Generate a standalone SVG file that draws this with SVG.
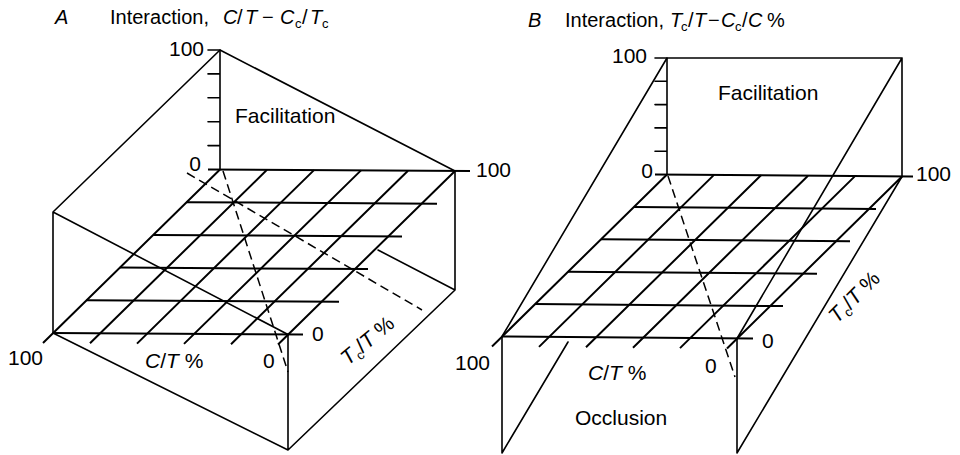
<svg xmlns="http://www.w3.org/2000/svg" width="960" height="455" viewBox="0 0 960 455">
<style>
.ln{stroke:#000;stroke-width:1.6;fill:none;stroke-linecap:round;stroke-linejoin:round}
.gr{stroke:#000;stroke-width:2;fill:none}
.ds{stroke:#000;stroke-width:1.5;fill:none;stroke-dasharray:9 5}
text{font-family:"Liberation Sans",Arial,Helvetica,sans-serif;font-size:21px;fill:#000}
.t{font-size:20px}
.i{font-style:italic}
.s{font-size:13px}
</style>
<rect width="960" height="455" fill="#fff"/>
<g id="panelA">
  <g id="A-grid">
    <path class="gr" d="M208,169.5 L470,171 M186.6,202.2 L437,203.7 M153.2,234.9 L402,236.4 M119.8,267.6 L368,269.1 M86.4,300.3 L339,301.8 M53,333 L303,334.5"/>
    <path class="gr" d="M220,169.5 L43,343 M267,169.8 L90,343.3 M314,170.1 L137,343.6 M361,170.4 L184,343.9 M408,170.7 L231,344.2 M455,171 L278,344.5"/>
  </g>
  <g id="A-axis">
    <path class="ln" d="M220,50 V169.5 M208,50 H220 M208,73.9 H220 M208,97.8 H220 M208,121.7 H220 M208,145.6 H220"/>
  </g>
  <g id="A-surface">
    <path class="ln" d="M220,50 L455,171 M220,50 L53,212 V333 M53,212 L288,334.5 M53,333 L288,450 V334.5 M288,450 L455,290 V171 M378,250 L455,290"/>
  </g>
  <g id="A-dashed">
    <path class="ds" d="M187,173 L422,310 M223,171 L288,372"/>
  </g>
  <g id="A-labels">
    <text class="t i" x="55" y="24">A</text>
    <text class="t" y="24"><tspan x="110">Interaction,</tspan><tspan class="i" x="223">C</tspan><tspan x="237">/</tspan><tspan class="i" x="245">T</tspan><tspan x="262">−</tspan><tspan class="i" x="280">C</tspan><tspan class="s" x="295" dy="4">c</tspan><tspan x="302" dy="-4">/</tspan><tspan class="i" x="310">T</tspan><tspan class="s" x="322" dy="4">c</tspan></text>
    <text x="204" y="56" text-anchor="end">100</text>
    <text x="201" y="171" text-anchor="end">0</text>
    <text x="235" y="123">Facilitation</text>
    <text x="476" y="177">100</text>
    <text x="312" y="341">0</text>
    <text x="8" y="365">100</text>
    <text x="145" y="368"><tspan class="i">C</tspan>/<tspan class="i">T</tspan> %</text>
    <text x="263" y="368">0</text>
    <text transform="translate(348,366) rotate(-40)"><tspan class="i">T</tspan><tspan class="s" dy="4">c</tspan><tspan dy="-4">/</tspan><tspan class="i">T</tspan> %</text>
  </g>
</g>
<g id="panelB">
  <g id="B-grid">
    <path class="gr" d="M655,174.5 L913,176.5 M634,206.9 L876,208.9 M601,239.3 L850,241.3 M568,271.7 L817,273.7 M535,304.1 L783,306.1 M502,336.5 L753,338.5"/>
    <path class="gr" d="M667,174.5 L492,346.5 M714,174.9 L539,346.9 M761,175.3 L586,347.3 M808,175.7 L633,347.7 M855,176.1 L680,348.1 M902,176.5 L727,348.5"/>
  </g>
  <g id="B-axis">
    <path class="ln" d="M667,58 V174.5 M655,58 H667 M655,81.3 H667 M655,104.6 H667 M655,127.9 H667 M655,151.2 H667"/>
  </g>
  <g id="B-surface">
    <path class="ln" d="M667,58 H902 V176.5 M667,58 L502,336.5 M902,58 L737,338.5 M502,336.5 V453 M737,338.5 V453 M568,342 L502,453 M902,176.5 L737,453"/>
  </g>
  <g id="B-dashed">
    <path class="ds" d="M668,176 L735,377"/>
  </g>
  <g id="B-labels">
    <text class="t i" x="528" y="27">B</text>
    <text class="t" y="27"><tspan x="565">Interaction,</tspan><tspan class="i" x="670">T</tspan><tspan class="s" x="681" dy="4">c</tspan><tspan x="688" dy="-4">/</tspan><tspan class="i" x="694">T</tspan><tspan x="708">−</tspan><tspan class="i" x="721">C</tspan><tspan class="s" x="735" dy="4">c</tspan><tspan x="742" dy="-4">/</tspan><tspan class="i" x="748">C</tspan><tspan x="767">%</tspan></text>
    <text x="647" y="63" text-anchor="end">100</text>
    <text x="653" y="178" text-anchor="end">0</text>
    <text x="718" y="100">Facilitation</text>
    <text x="916" y="181">100</text>
    <text x="762" y="348">0</text>
    <text x="455" y="370">100</text>
    <text x="588" y="380"><tspan class="i">C</tspan>/<tspan class="i">T</tspan> %</text>
    <text x="705" y="373">0</text>
    <text x="575" y="425">Occlusion</text>
    <text transform="translate(837,324) rotate(-45)"><tspan class="i">T</tspan><tspan class="s" dy="4">c</tspan><tspan dy="-4">/</tspan><tspan class="i">T</tspan> %</text>
  </g>
</g>
</svg>
